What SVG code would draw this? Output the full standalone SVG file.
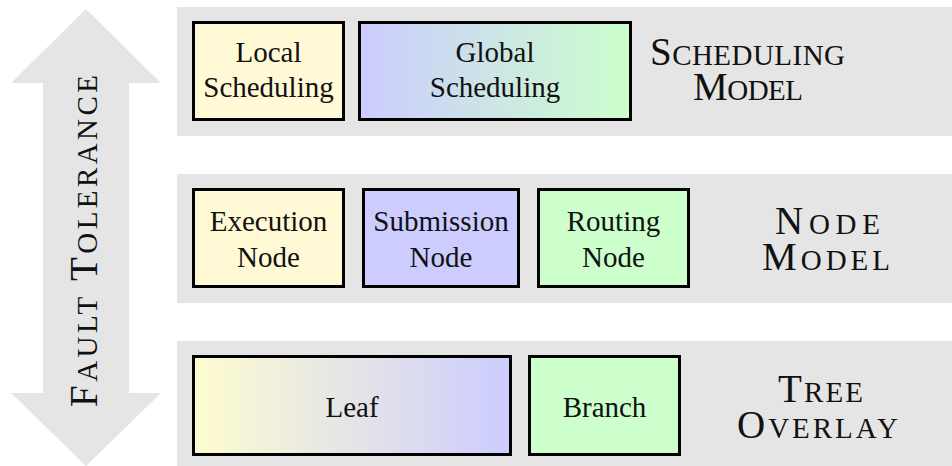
<svg xmlns="http://www.w3.org/2000/svg" width="952" height="466" viewBox="0 0 952 466">
  <defs>
    <linearGradient id="gradBlueGreen" x1="0" y1="0" x2="1" y2="0">
      <stop offset="0" stop-color="#ccccff"/>
      <stop offset="1" stop-color="#ccffcc"/>
    </linearGradient>
    <linearGradient id="gradYellowBlue" x1="0" y1="0" x2="1" y2="0">
      <stop offset="0" stop-color="#fdfccf"/>
      <stop offset="1" stop-color="#ccccff"/>
    </linearGradient>
    <style>
      .layer { fill: #e5e5e5; }
      .box { stroke: #000; stroke-width: 3; }
      .yellow { fill: #fffad5; }
      .blue { fill: #ccccff; }
      .green { fill: #ccffcc; }
      text { font-family: "Liberation Serif", "Times New Roman", serif; fill: #111; }
      .lbl { font-size: 29px; text-anchor: middle; }
      .title { font-size: 39px; }
      .sc { font-size: 29px; }
    </style>
  </defs>

  <rect width="952" height="466" fill="#ffffff"/>

  <!-- double-headed arrow for the cross-cutting concern -->
  <g id="fault-tolerance">
    <polygon class="layer" points="86,9 161,83 129,83 129,393 161,393 86,466 11,393 43,393 43,83 11,83"/>
    <text class="title" font-family="Liberation Serif, serif" transform="translate(97,241) rotate(-90)" text-anchor="middle" textLength="332" lengthAdjust="spacing">F<tspan class="sc">AULT</tspan> T<tspan class="sc">OLERANCE</tspan></text>
  </g>

  <!-- layer backgrounds and their titles -->
  <g id="layer-scheduling">
    <rect class="layer" x="177" y="7" width="775" height="129"/>
    <text class="title" font-family="Liberation Serif, serif" x="650" y="65" textLength="195" lengthAdjust="spacing">S<tspan class="sc">CHEDULING</tspan></text>
    <text class="title" font-family="Liberation Serif, serif" x="693" y="100" textLength="110" lengthAdjust="spacing">M<tspan class="sc">ODEL</tspan></text>
  </g>
  <g id="layer-node">
    <rect class="layer" x="177" y="174" width="775" height="129"/>
    <text class="title" font-family="Liberation Serif, serif" x="775" y="234" textLength="105" lengthAdjust="spacing">N<tspan class="sc">ODE</tspan></text>
    <text class="title" font-family="Liberation Serif, serif" x="762" y="270" textLength="128" lengthAdjust="spacing">M<tspan class="sc">ODEL</tspan></text>
  </g>
  <g id="layer-tree">
    <rect class="layer" x="177" y="341" width="775" height="129"/>
    <text class="title" font-family="Liberation Serif, serif" x="778" y="402" textLength="85" lengthAdjust="spacing">T<tspan class="sc">REE</tspan></text>
    <text class="title" font-family="Liberation Serif, serif" x="737" y="438" textLength="161" lengthAdjust="spacing">O<tspan class="sc">VERLAY</tspan></text>
  </g>

  <!-- scheduling model components -->
  <g id="local-scheduling">
    <rect class="box yellow" x="193.5" y="22.5" width="150" height="97"/>
    <text class="lbl" font-family="Liberation Serif, serif" x="268.5" y="62">Local</text>
    <text class="lbl" font-family="Liberation Serif, serif" x="268.5" y="97">Scheduling</text>
  </g>
  <g id="global-scheduling">
    <rect class="box" fill="url(#gradBlueGreen)" x="359.5" y="22.5" width="271" height="97"/>
    <text class="lbl" font-family="Liberation Serif, serif" x="495" y="62">Global</text>
    <text class="lbl" font-family="Liberation Serif, serif" x="495" y="97">Scheduling</text>
  </g>

  <!-- node model components -->
  <g id="execution-node">
    <rect class="box yellow" x="193.5" y="189.5" width="150" height="97"/>
    <text class="lbl" font-family="Liberation Serif, serif" x="268.5" y="231">Execution</text>
    <text class="lbl" font-family="Liberation Serif, serif" x="268.5" y="267">Node</text>
  </g>
  <g id="submission-node">
    <rect class="box blue" x="363.5" y="189.5" width="155" height="97"/>
    <text class="lbl" font-family="Liberation Serif, serif" x="441" y="231">Submission</text>
    <text class="lbl" font-family="Liberation Serif, serif" x="441" y="267">Node</text>
  </g>
  <g id="routing-node">
    <rect class="box green" x="538.5" y="189.5" width="150" height="97"/>
    <text class="lbl" font-family="Liberation Serif, serif" x="613.5" y="231">Routing</text>
    <text class="lbl" font-family="Liberation Serif, serif" x="613.5" y="267">Node</text>
  </g>

  <!-- tree overlay components -->
  <g id="leaf">
    <rect class="box" fill="url(#gradYellowBlue)" x="193.5" y="356.5" width="317" height="98"/>
    <text class="lbl" font-family="Liberation Serif, serif" x="352" y="417">Leaf</text>
  </g>
  <g id="branch">
    <rect class="box green" x="529.5" y="356.5" width="150" height="98"/>
    <text class="lbl" font-family="Liberation Serif, serif" x="604.5" y="417">Branch</text>
  </g>

  <g id="connectors"/>
</svg>
